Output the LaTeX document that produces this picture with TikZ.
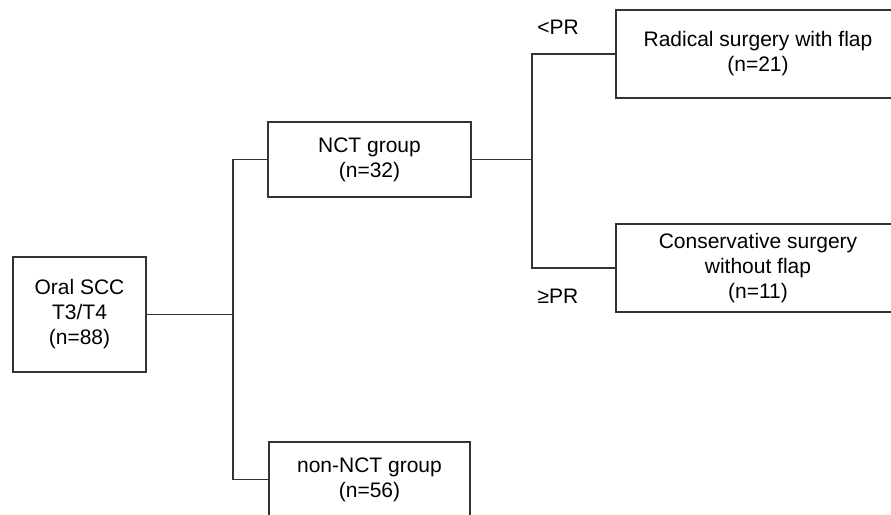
\documentclass[tikz,border=0pt]{standalone}
\usepackage{fontspec}
\setmainfont{Liberation Sans}
\usepackage{tikz}
\usetikzlibrary{positioning}
\definecolor{linecolor}{HTML}{333333}

\begin{document}
\begin{tikzpicture}[
  x=1pt, y=-1pt,
  group/.style={draw=linecolor, line width=1.6pt, fill=white, align=center, inner sep=0pt,
    font=\fontsize{21}{25}\selectfont},
  label/.style={inner sep=0pt, font=\fontsize{21}{25}\selectfont},
  link/.style={draw=linecolor, line width=1.6pt}
]
  \useasboundingbox (0,0) rectangle (891,514);

  \node[group, minimum width=133pt, minimum height=115pt] (oral) at (79.5,314.5) {Oral SCC\\T3/T4\\(n=88)};
  \node[group, minimum width=203pt, minimum height=75pt] (nct) at (369.5,159.5) {NCT group\\(n=32)};
  \node[group, minimum width=201pt, minimum height=75pt] (non) at (369.5,479.5) {non-NCT group\\(n=56)};
  \node[group, minimum width=284pt, minimum height=88pt] (rad) at (758,54) {Radical surgery with flap\\(n=21)};
  \node[group, minimum width=284pt, minimum height=88pt] (cons) at (758,268) {Conservative surgery\\without flap\\(n=11)};
  \node[label] (lt) at (558,27) {<PR};
  \node[label] (ge) at (558,296) {≥PR};

  \coordinate (fork1) at ([xshift=86pt]oral.east);
  \coordinate (fork2) at ([xshift=60pt]nct.east);

  \draw[link] (oral.east) -- (fork1);
  \draw[link] (nct.west) -| (fork1);
  \draw[link] (non.west) -| (fork1);
  \draw[link] (nct.east) -- (fork2);
  \draw[link] (rad.west) -| (fork2);
  \draw[link] (cons.west) -| (fork2);
\end{tikzpicture}
\end{document}
